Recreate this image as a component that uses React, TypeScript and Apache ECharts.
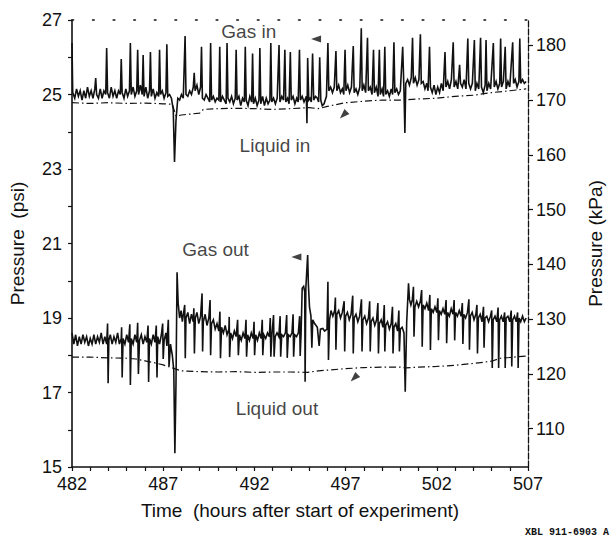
import React, { useEffect, useRef } from "react";
import * as echarts from "echarts";

// ---------- tick labels ----------
const xLabelTicks = [482, 487, 492, 497, 502, 507];
const xHourTicks = [482, 483, 484, 485, 486, 487, 488, 489, 490, 491, 492, 493, 494, 495, 496, 497, 498, 499, 500, 501, 502, 503, 504, 505, 506, 507];
const psiLabelTicks = [15, 17, 19, 21, 23, 25, 27];
const psiTicks = [15, 16, 17, 18, 19, 20, 21, 22, 23, 24, 25, 26, 27];
const kpaTicks = [110, 120, 130, 140, 150, 160, 170, 180];

// ---------- series (hour, psi) ----------
const gasIn: [number, number][] = [
  [482.0, 26.38], [482.04, 25.05], [482.15, 24.9], [482.25, 25.15], [482.35, 24.95], [482.45, 25.1], [482.55, 24.85], [482.65, 25.1], [482.75, 24.9], [482.85, 25.2], [482.95, 24.95],
  [483.05, 25.1], [483.15, 24.9], [483.25, 25.15], [483.3, 25.44], [483.35, 25.0], [483.45, 24.9], [483.55, 25.15], [483.65, 24.9], [483.75, 25.1], [483.85, 25.0], [483.9, 26.25], [483.95, 25.05],
  [484.05, 24.9], [484.15, 25.2], [484.25, 24.95], [484.35, 25.1], [484.45, 24.9], [484.55, 25.1], [484.65, 25.0], [484.7, 25.95], [484.75, 25.05], [484.85, 24.9], [484.95, 25.15],
  [485.05, 24.95], [485.15, 25.1], [485.2, 26.38], [485.25, 25.0], [485.35, 25.2], [485.45, 24.95], [485.55, 25.1], [485.6, 26.2], [485.65, 25.0], [485.75, 25.25], [485.85, 25.0], [485.9, 26.06], [485.95, 24.95],
  [486.05, 25.2], [486.15, 24.9], [486.25, 25.1], [486.3, 26.14], [486.35, 24.95], [486.45, 25.15], [486.55, 24.9], [486.65, 25.05], [486.75, 24.95], [486.8, 26.2], [486.85, 25.0], [486.95, 25.1],
  [487.05, 24.9], [487.15, 25.05], [487.2, 26.35], [487.25, 24.95], [487.35, 25.0], [487.45, 24.9], [487.55, 24.6], [487.62, 23.19], [487.7, 24.3], [487.8, 24.9], [487.9, 24.85],
  [488.0, 25.0], [488.1, 24.9], [488.2, 26.57], [488.25, 25.0], [488.35, 24.95], [488.45, 25.1], [488.55, 25.0], [488.65, 25.2], [488.7, 25.58], [488.75, 25.1], [488.85, 25.25], [488.95, 25.0],
  [489.05, 25.2], [489.1, 26.28], [489.15, 24.9], [489.25, 24.85], [489.35, 25.0], [489.45, 24.9], [489.55, 24.8], [489.6, 26.38], [489.65, 24.85], [489.75, 24.95], [489.85, 24.8], [489.95, 24.9],
  [490.05, 24.85], [490.1, 26.28], [490.15, 24.8], [490.25, 24.95], [490.35, 24.85], [490.45, 24.75], [490.5, 26.38], [490.55, 24.9], [490.65, 24.8], [490.75, 24.95], [490.85, 24.75], [490.95, 24.9],
  [491.0, 26.2], [491.05, 24.85], [491.15, 24.95], [491.25, 24.7], [491.35, 24.9], [491.45, 24.8], [491.5, 26.28], [491.55, 24.85], [491.65, 24.7], [491.75, 24.95], [491.85, 24.8], [491.9, 26.1], [491.95, 24.75],
  [492.05, 24.9], [492.15, 24.7], [492.25, 24.85], [492.3, 26.25], [492.35, 24.75], [492.45, 24.95], [492.55, 24.7], [492.65, 24.9], [492.75, 24.75], [492.85, 24.85], [492.9, 26.38], [492.95, 24.8],
  [493.05, 24.9], [493.15, 24.75], [493.25, 24.9], [493.35, 26.33], [493.4, 24.8], [493.5, 24.95], [493.6, 24.85], [493.67, 26.2], [493.72, 24.8], [493.82, 24.9], [493.9, 24.75], [493.97, 26.14],
  [494.02, 24.85], [494.12, 24.95], [494.22, 24.75], [494.32, 24.9], [494.4, 24.8], [494.47, 26.2], [494.52, 24.85], [494.62, 24.95], [494.72, 24.8], [494.85, 24.95], [494.88, 24.23], [494.92, 25.98], [494.98, 24.85],
  [495.05, 24.9], [495.12, 24.8], [495.19, 26.1], [495.25, 24.85], [495.35, 24.95], [495.45, 24.9], [495.52, 24.8], [495.58, 26.0], [495.64, 24.85], [495.72, 24.7], [495.82, 24.75], [495.95, 24.95],
  [496.03, 26.38], [496.08, 25.1], [496.18, 25.2], [496.28, 25.05], [496.38, 25.2], [496.47, 26.17], [496.52, 25.1], [496.62, 25.25], [496.72, 25.05], [496.82, 25.15], [496.9, 25.0], [496.97, 26.2],
  [497.02, 25.1], [497.12, 25.25], [497.22, 25.05], [497.32, 25.2], [497.42, 26.3], [497.47, 25.05], [497.57, 25.15], [497.67, 25.0], [497.78, 25.2], [497.86, 26.78], [497.91, 25.1],
  [498.0, 25.25], [498.1, 25.05], [498.2, 26.52], [498.25, 25.1], [498.35, 25.2], [498.45, 25.0], [498.53, 26.2], [498.58, 25.05], [498.68, 25.2], [498.78, 24.95], [498.85, 26.2], [498.9, 25.0],
  [499.0, 25.15], [499.08, 24.95], [499.15, 26.28], [499.2, 25.0], [499.3, 25.1], [499.4, 24.95], [499.5, 25.15], [499.58, 25.0], [499.65, 26.4], [499.7, 25.05], [499.8, 25.15], [499.9, 25.0],
  [500.0, 25.1], [500.13, 26.28], [500.2, 25.1], [500.25, 23.97], [500.3, 25.3], [500.4, 25.4], [500.5, 25.25], [500.6, 25.45], [500.67, 26.52], [500.72, 25.3], [500.82, 25.45], [500.92, 25.25],
  [501.02, 25.4], [501.1, 26.62], [501.15, 25.3], [501.25, 25.35], [501.35, 25.15], [501.45, 25.3], [501.52, 25.1], [501.6, 26.28], [501.65, 25.2], [501.75, 25.05], [501.85, 25.25], [501.95, 25.0],
  [502.05, 25.2], [502.15, 25.05], [502.25, 25.3], [502.35, 25.1], [502.45, 26.14], [502.5, 25.2], [502.6, 25.35], [502.7, 25.15], [502.8, 25.4], [502.9, 26.4], [502.95, 25.2],
  [503.05, 25.35], [503.15, 25.15], [503.25, 25.8], [503.3, 25.3], [503.4, 25.2], [503.5, 25.4], [503.6, 25.15], [503.7, 26.5], [503.75, 25.3], [503.85, 25.15], [503.95, 25.3],
  [504.06, 26.46], [504.11, 25.1], [504.2, 25.3], [504.3, 25.15], [504.4, 26.52], [504.45, 25.2], [504.55, 25.05], [504.65, 25.25], [504.7, 26.46], [504.75, 25.1], [504.85, 25.3], [504.95, 25.15],
  [505.1, 26.38], [505.15, 25.2], [505.25, 25.35], [505.35, 25.15], [505.45, 25.3], [505.5, 26.5], [505.55, 25.2], [505.65, 25.35], [505.75, 26.28], [505.8, 25.15], [505.9, 25.35],
  [506.0, 25.2], [506.16, 26.4], [506.21, 25.3], [506.3, 25.4], [506.4, 25.2], [506.5, 25.35], [506.55, 26.5], [506.6, 25.3], [506.7, 25.4], [506.8, 25.3], [506.9, 25.35],
];

const liquidIn: [number, number][] = [
  [482.0, 24.78], [483.0, 24.76], [484.0, 24.78], [485.0, 24.76], [486.0, 24.77], [487.0, 24.75], [487.5, 24.74], [487.7, 24.42],
  [488.0, 24.45], [489.0, 24.5], [489.2, 24.6], [490.0, 24.62], [491.0, 24.63], [492.0, 24.62], [493.0, 24.6], [494.0, 24.62],
  [495.0, 24.65], [495.5, 24.62], [496.0, 24.68], [497.0, 24.78], [498.0, 24.82], [499.0, 24.85], [500.0, 24.85], [501.0, 24.88],
  [502.0, 24.9], [503.0, 24.95], [504.0, 24.98], [505.0, 25.05], [506.0, 25.1], [506.9, 25.15],
];

const gasOut: [number, number][] = [
  [482.0, 18.6], [482.1, 18.3], [482.2, 18.55], [482.3, 18.25], [482.4, 18.5], [482.5, 18.3], [482.6, 18.55], [482.7, 18.35], [482.8, 18.5], [482.9, 18.25],
  [483.0, 18.45], [483.1, 18.3], [483.2, 18.55], [483.3, 18.3], [483.4, 18.5], [483.5, 18.35], [483.6, 18.6], [483.7, 18.3], [483.8, 18.5], [483.9, 18.3], [483.95, 18.85], [483.98, 17.25],
  [484.02, 18.4], [484.1, 18.55], [484.2, 18.3], [484.3, 18.5], [484.4, 18.35], [484.5, 18.6], [484.6, 18.3], [484.7, 18.45], [484.72, 18.75], [484.75, 17.4], [484.8, 18.45], [484.9, 18.3],
  [485.0, 18.55], [485.1, 18.35], [485.17, 18.83], [485.2, 17.2], [485.25, 18.45], [485.35, 18.3], [485.45, 18.55], [485.55, 18.35], [485.6, 18.87], [485.64, 17.5], [485.7, 18.4], [485.8, 18.55], [485.9, 18.3],
  [486.0, 18.5], [486.1, 18.35], [486.17, 18.8], [486.2, 17.28], [486.25, 18.45], [486.35, 18.3], [486.45, 18.55], [486.55, 18.35], [486.62, 18.8], [486.66, 17.4], [486.7, 18.5], [486.8, 18.3], [486.9, 18.55], [486.97, 18.85],
  [487.0, 17.9], [487.05, 18.4], [487.15, 18.6], [487.2, 18.25], [487.28, 18.95], [487.32, 17.7], [487.4, 18.3], [487.5, 18.0], [487.58, 17.6], [487.64, 15.37], [487.7, 17.2], [487.76, 20.23], [487.82, 19.4], [487.9, 19.0], [487.98, 19.2],
  [488.05, 18.9], [488.12, 19.15], [488.18, 19.35], [488.21, 17.92], [488.25, 19.0], [488.35, 19.15], [488.45, 18.85], [488.55, 19.1], [488.65, 18.9], [488.68, 19.26], [488.71, 18.05], [488.76, 19.0], [488.85, 19.15], [488.95, 18.85],
  [489.05, 19.05], [489.13, 19.66], [489.16, 18.1], [489.2, 18.9], [489.3, 19.1], [489.4, 18.8], [489.5, 19.0], [489.57, 19.48], [489.6, 18.0], [489.65, 18.85], [489.75, 18.95], [489.85, 18.7], [489.95, 18.85],
  [490.05, 18.65], [490.11, 19.17], [490.14, 17.92], [490.2, 18.75], [490.3, 18.6], [490.4, 18.8], [490.5, 18.55], [490.6, 18.7], [490.62, 19.03], [490.64, 17.95], [490.7, 18.6], [490.8, 18.45], [490.9, 18.65],
  [491.0, 18.5], [491.08, 18.95], [491.12, 18.0], [491.18, 18.55], [491.28, 18.4], [491.38, 18.6], [491.48, 18.45], [491.54, 18.95], [491.57, 17.96], [491.63, 18.55], [491.73, 18.4], [491.83, 18.6], [491.93, 18.45], [491.98, 18.9],
  [492.01, 18.0], [492.07, 18.55], [492.17, 18.4], [492.27, 18.6], [492.37, 18.45], [492.43, 18.95], [492.46, 18.0], [492.52, 18.55], [492.62, 18.45], [492.72, 18.6], [492.82, 18.5], [492.87, 19.0], [492.9, 17.96], [492.96, 18.55],
  [493.05, 19.08], [493.08, 17.96], [493.14, 18.5], [493.24, 18.6], [493.34, 18.5], [493.41, 19.05], [493.44, 17.96], [493.5, 18.55], [493.6, 18.5], [493.7, 18.6], [493.77, 19.08], [493.8, 17.93], [493.86, 18.55], [493.96, 18.5],
  [494.06, 18.6], [494.12, 19.1], [494.15, 17.96], [494.21, 18.55], [494.31, 18.5], [494.41, 18.6], [494.48, 19.05], [494.51, 17.98], [494.56, 18.6], [494.62, 19.8], [494.7, 19.85], [494.76, 19.7], [494.78, 17.29], [494.82, 19.8], [494.92, 20.69], [494.96, 19.9],
  [495.02, 19.3], [495.1, 19.05], [495.15, 18.2], [495.2, 18.95], [495.3, 18.85], [495.38, 18.8], [495.45, 18.75], [495.55, 18.25], [495.62, 18.7], [495.75, 18.72], [495.85, 18.65], [495.98, 18.7],
  [496.03, 19.97], [496.06, 17.87], [496.12, 18.95], [496.2, 19.2], [496.3, 19.05], [496.4, 19.2], [496.44, 19.55], [496.47, 18.15], [496.52, 19.1], [496.62, 19.2], [496.72, 19.0], [496.82, 19.15], [496.92, 19.45], [496.95, 18.1],
  [497.0, 19.05], [497.1, 19.15], [497.2, 18.95], [497.3, 19.1], [497.39, 19.6], [497.42, 18.05], [497.47, 19.0], [497.57, 19.1], [497.67, 18.9], [497.77, 19.05], [497.87, 19.5], [497.9, 18.1], [497.95, 18.95],
  [498.05, 19.05], [498.15, 18.85], [498.25, 19.0], [498.32, 19.45], [498.35, 18.1], [498.4, 18.9], [498.5, 19.0], [498.6, 18.8], [498.7, 18.95], [498.77, 19.4], [498.8, 18.05], [498.85, 18.85], [498.95, 18.95],
  [499.05, 18.75], [499.12, 19.35], [499.15, 18.1], [499.2, 18.8], [499.3, 18.9], [499.4, 18.7], [499.5, 18.85], [499.57, 19.3], [499.6, 18.05], [499.65, 18.75], [499.75, 18.85], [499.85, 18.65], [499.92, 19.2], [499.95, 18.1],
  [500.0, 18.7], [500.1, 18.75], [500.2, 18.6], [500.27, 17.02], [500.35, 18.9], [500.45, 19.93], [500.5, 19.5], [500.58, 19.35], [500.66, 19.5], [500.72, 19.84], [500.75, 18.5], [500.8, 19.3], [500.9, 19.45],
  [501.0, 19.3], [501.1, 19.45], [501.17, 19.75], [501.2, 18.23], [501.25, 19.35], [501.35, 19.25], [501.45, 19.4], [501.55, 19.2], [501.62, 19.62], [501.65, 18.14], [501.7, 19.25], [501.8, 19.15], [501.9, 19.3],
  [502.0, 19.15], [502.06, 19.53], [502.09, 18.4], [502.14, 19.2], [502.24, 19.1], [502.34, 19.25], [502.44, 19.1], [502.51, 19.48], [502.54, 18.32], [502.59, 19.15], [502.69, 19.05], [502.79, 19.25], [502.89, 19.1], [502.95, 19.48], [502.98, 18.4],
  [503.03, 19.15], [503.13, 19.05], [503.23, 19.2], [503.33, 19.05], [503.4, 19.4], [503.43, 18.3], [503.48, 19.1], [503.58, 19.0], [503.68, 19.15], [503.76, 19.5], [503.79, 18.15], [503.84, 19.05], [503.94, 19.15],
  [504.04, 18.95], [504.14, 19.1], [504.2, 19.35], [504.23, 18.05], [504.28, 19.0], [504.38, 19.1], [504.48, 18.9], [504.56, 19.3], [504.59, 18.2], [504.64, 19.0], [504.74, 19.05], [504.84, 18.9], [504.94, 19.05],
  [505.01, 19.2], [505.04, 17.66], [505.09, 18.95], [505.19, 19.05], [505.29, 18.9], [505.36, 19.28], [505.39, 17.66], [505.44, 18.95], [505.54, 19.05], [505.64, 18.9], [505.72, 19.15], [505.75, 17.66], [505.8, 19.0], [505.9, 19.05],
  [506.0, 18.9], [506.08, 19.2], [506.11, 17.7], [506.16, 18.95], [506.26, 19.05], [506.36, 18.9], [506.43, 19.15], [506.46, 17.66], [506.51, 19.0], [506.6, 18.9], [506.7, 19.05], [506.8, 18.9], [506.9, 19.0],
];

const liquidOut: [number, number][] = [
  [482.0, 17.95], [483.0, 17.95], [484.0, 17.93], [485.0, 17.92], [485.5, 17.9], [486.0, 17.85], [486.5, 17.8], [487.0, 17.74], [487.5, 17.66],
  [488.0, 17.58], [489.0, 17.56], [490.0, 17.55], [491.0, 17.56], [492.0, 17.54], [493.0, 17.55], [494.0, 17.55], [494.9, 17.54], [495.5, 17.58],
  [496.0, 17.6], [497.0, 17.64], [498.0, 17.67], [499.0, 17.68], [500.0, 17.68], [500.3, 17.66], [501.0, 17.68], [502.0, 17.7], [503.0, 17.73],
  [504.0, 17.78], [505.0, 17.84], [505.5, 17.92], [506.0, 17.94], [506.9, 17.98],
];

// arrowheads: [hour, psi, rotation]
const arrowHeads: [number, number, number][] = [
  [495.38, 26.49, 90],
  [496.88, 24.45, 135],
  [494.3, 20.64, 90],
  [497.47, 17.39, 135],
];

// annotation labels anchored in data space: [hour, psi, text]
const annotations: [number, number, string][] = [
  [491.69, 26.7, "Gas in"],
  [493.13, 23.64, "Liquid in"],
  [489.87, 20.85, "Gas out"],
  [493.24, 16.58, "Liquid out"],
];

const FONT = '"Liberation Sans", Arial, Helvetica, sans-serif';
const INK = "#111111";

export default function App() {
  const ref = useRef<HTMLDivElement>(null);

  useEffect(() => {
    if (!ref.current) return;
    const chart = echarts.init(ref.current, undefined, { renderer: "svg" });

    const traceLine = { color: INK, width: 1.6, join: "miter" as const };
    const dashDot = { color: INK, width: 1.2, type: [7, 3, 1.5, 3] as number[] };

    chart.setOption({
      animation: false,
      backgroundColor: "#ffffff",
      textStyle: { fontFamily: FONT, color: INK },
      grid: { left: 68, right: 79, top: 20, bottom: 75, containLabel: false },
      xAxis: [
        {
          type: "value",
          min: 482,
          max: 507,
          position: "bottom",
          name: "Time  (hours after start of experiment)",
          nameLocation: "middle",
          nameGap: 34,
          nameTextStyle: { fontFamily: FONT, fontSize: 19, color: INK },
          axisLine: { show: true, lineStyle: { color: INK, width: 1.5 } },
          axisTick: { show: true, customValues: xHourTicks, length: 4, inside: false, lineStyle: { color: INK, width: 1.2 } },
          axisLabel: { customValues: xLabelTicks, fontFamily: FONT, fontSize: 18, color: INK, margin: 8 },
          splitLine: { show: false },
        },
        {
          type: "value",
          min: 482,
          max: 507,
          position: "top",
          axisLine: { show: true, lineStyle: { color: INK, width: 1.6, type: [1.6, 19] } },
          axisTick: { show: false },
          axisLabel: { show: false },
          splitLine: { show: false },
        },
      ],
      yAxis: [
        {
          type: "value",
          min: 15,
          max: 27,
          position: "left",
          name: "Pressure  (psi)",
          nameLocation: "middle",
          nameRotate: 90,
          nameGap: 45,
          nameTextStyle: { fontFamily: FONT, fontSize: 19, color: INK },
          axisLine: { show: true, lineStyle: { color: INK, width: 1.6 } },
          axisTick: { show: true, customValues: psiTicks, length: 4, lineStyle: { color: INK, width: 1.2 } },
          axisLabel: { customValues: psiLabelTicks, fontFamily: FONT, fontSize: 18, color: INK, margin: 10 },
          splitLine: { show: false },
        },
        {
          type: "value",
          min: 103,
          max: 184.6,
          position: "right",
          name: "Pressure (kPa)",
          nameLocation: "middle",
          nameRotate: 90,
          nameGap: 58,
          nameTextStyle: { fontFamily: FONT, fontSize: 19, color: INK },
          axisLine: { show: true, lineStyle: { color: INK, width: 1.3, type: [6, 2] } },
          axisTick: { show: true, customValues: kpaTicks, length: 5, lineStyle: { color: INK, width: 1.2 } },
          axisLabel: { customValues: kpaTicks, fontFamily: FONT, fontSize: 18, color: INK, margin: 8 },
          splitLine: { show: false },
        },
      ],
      series: [
        { name: "Liquid in", type: "line", data: liquidIn, showSymbol: false, lineStyle: dashDot, z: 2 },
        { name: "Liquid out", type: "line", data: liquidOut, showSymbol: false, lineStyle: dashDot, z: 2 },
        { name: "Gas in", type: "line", data: gasIn, showSymbol: false, lineStyle: traceLine, z: 3 },
        { name: "Gas out", type: "line", data: gasOut, showSymbol: false, lineStyle: traceLine, z: 3 },
        {
          name: "arrows",
          type: "scatter",
          symbol: "triangle",
          symbolSize: [7, 10],
          itemStyle: { color: INK },
          data: arrowHeads.map((a) => ({ value: [a[0], a[1]], symbolRotate: a[2] })),
          z: 4,
        },
        {
          name: "annotations",
          type: "scatter",
          symbolSize: 1,
          itemStyle: { color: "rgba(0,0,0,0)" },
          label: {
            show: true,
            position: "inside",
            formatter: (p: any) => p.data.text,
            fontFamily: FONT,
            fontSize: 19,
            color: INK,
          },
          data: annotations.map((a) => ({ value: [a[0], a[1]], text: a[2] })),
          z: 5,
        },
      ],
      graphic: [
        {
          type: "text",
          right: 4,
          top: 527,
          style: {
            text: "XBL 911-6903 A",
            font: 'bold 10px "Liberation Mono", "DejaVu Sans Mono", monospace',
            fill: INK,
          },
        },
      ],
    });

    return () => chart.dispose();
  }, []);

  return (
    <div
      ref={ref}
      style={{ position: "absolute", left: 0, top: 0, width: 613, height: 542, background: "#fff" }}
    />
  );
}
